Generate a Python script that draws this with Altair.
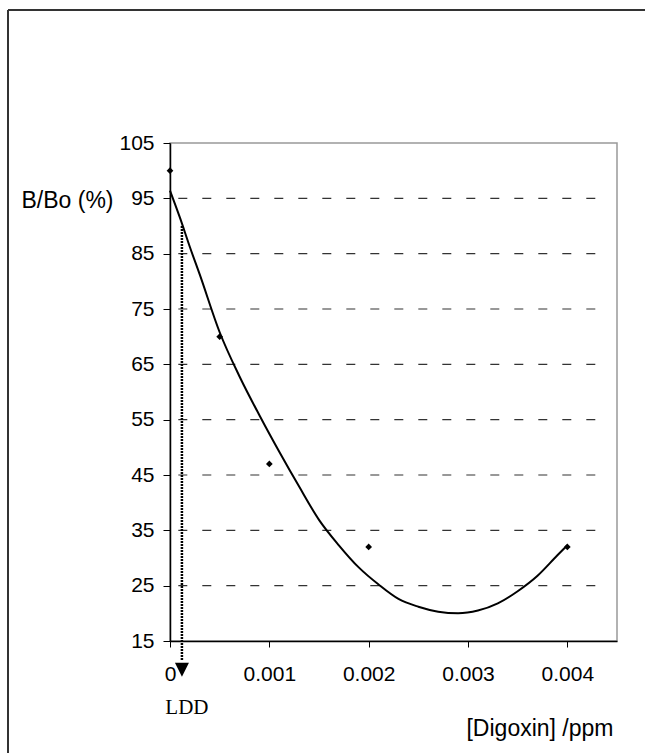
import altair as alt
import pandas as pd

# ---- data ----
dig_x = [0, 0.0005, 0.001, 0.002, 0.004]
bbo = [100, 70, 47, 32, 32]

fit_x = [0, 0.0001, 0.0002, 0.0003, 0.0005, 0.0007, 0.0009, 0.0011, 0.0013,
         0.0015, 0.0017, 0.0019, 0.0021, 0.0023, 0.0025, 0.0027, 0.0029,
         0.0031, 0.0033, 0.0035, 0.0037, 0.0039, 0.004]
fit_y = [96.4, 91.5, 86.2, 81.2, 70.8, 62.8, 55.8, 49.2, 42.9,
         36.9, 32.3, 28.3, 25.2, 22.6, 21.2, 20.3, 20.0,
         20.5, 21.8, 24.0, 26.8, 30.5, 32.3]

y_ticks = [15, 25, 35, 45, 55, 65, 75, 85, 95, 105]
grid_vals = [25, 35, 45, 55, 65, 75, 85, 95]
x_ticks = [0, 0.001, 0.002, 0.003, 0.004]

ldd_x = [0.00012]
ldd_top = [90]
ldd_bottom = [11.5]
ldd_head = [9.8]
ldd_label_y = [2.6]

SANS = "Liberation Sans"
SERIF = "Liberation Serif"

pts = pd.DataFrame({"x": dig_x, "y": bbo})
fit = pd.DataFrame({"x": fit_x, "y": fit_y})
grid = pd.DataFrame({"y": grid_vals})
ldd = pd.DataFrame({"x": ldd_x, "y": ldd_top, "y2": ldd_bottom,
                    "yh": ldd_head, "yl": ldd_label_y, "t": ["LDD"]})

xs = alt.Scale(domain=[0, 0.0045], nice=False, zero=False)
ys = alt.Scale(domain=[15, 105], nice=False, zero=False)

x_axis = alt.Axis(values=x_ticks, format="~g", grid=False, tickSize=6,
                  tickColor="black", domainColor="black", domainWidth=1.5,
                  labelFont=SANS, labelFontSize=21, labelColor="black",
                  labelPadding=16, labelFlush=False, labelOverlap=False,
                  title="[Digoxin] /ppm", titleFont=SANS, titleFontSize=23,
                  titleFontWeight="normal", titleColor="black",
                  titleAlign="right", titleX=443, titleY=94,
                  titleBaseline="alphabetic")
y_axis = alt.Axis(values=y_ticks, grid=False, tickSize=7, tickColor="black",
                  domainColor="black", domainWidth=1.5,
                  labelFont=SANS, labelFontSize=21, labelColor="black",
                  labelPadding=9, labelOverlap=False,
                  title="B/Bo (%)", titleFont=SANS, titleFontSize=23,
                  titleFontWeight="normal", titleColor="black", titleAngle=0,
                  titleAlign="left", titleX=-149, titleY=64,
                  titleBaseline="alphabetic")

dash = [0, 21.7] + [9, 15] * 20

gridlines = alt.Chart(grid).mark_rule(
    color="#333", strokeWidth=1.2, strokeDash=dash
).encode(y=alt.Y("y:Q", scale=ys, axis=y_axis))

curve = alt.Chart(fit).mark_line(
    color="black", strokeWidth=2, interpolate="monotone"
).encode(x=alt.X("x:Q", scale=xs, axis=x_axis),
         y=alt.Y("y:Q", scale=ys))

points = alt.Chart(pts).mark_point(
    shape="diamond", filled=True, color="black", size=45, opacity=1
).encode(x=alt.X("x:Q", scale=xs), y=alt.Y("y:Q", scale=ys))

arrow_line = alt.Chart(ldd).mark_rule(
    color="black", strokeWidth=2.5, strokeDash=[2, 1]
).encode(x=alt.X("x:Q", scale=xs), y=alt.Y("y:Q", scale=ys),
         y2="y2:Q")

arrow_head = alt.Chart(ldd).mark_point(
    shape="M-1,-1L1,-1L0,1Z", filled=True, color="black", size=196, opacity=1
).encode(x=alt.X("x:Q", scale=xs), y=alt.Y("yh:Q", scale=ys))

ldd_text = alt.Chart(ldd).mark_text(
    font=SERIF, fontSize=21, color="black", align="center",
    baseline="alphabetic", dx=5, dy=4
).encode(x=alt.X("x:Q", scale=xs), y=alt.Y("yl:Q", scale=ys), text="t:N")

frame_top = alt.Chart(ldd).mark_rule(color="#333", strokeWidth=2).encode(
    x=alt.value(-162), x2=alt.value(500), y=alt.value(-133),
    y2=alt.value(-133))
frame_left = alt.Chart(ldd).mark_rule(color="#333", strokeWidth=2).encode(
    x=alt.value(-162), x2=alt.value(-162), y=alt.value(-133),
    y2=alt.value(640))

chart = alt.layer(
    gridlines, curve, points, arrow_line, arrow_head, ldd_text,
    frame_top, frame_left
).properties(
    width=447, height=498,
    padding={"left": 170, "top": 143, "right": 28, "bottom": 112},
    autosize=alt.AutoSizeParams(type="none"),
    background="white"
).configure_view(
    stroke="#999", strokeWidth=1.5
)

chart.save("out.html", embed_options={"renderer": "svg", "actions": False})
